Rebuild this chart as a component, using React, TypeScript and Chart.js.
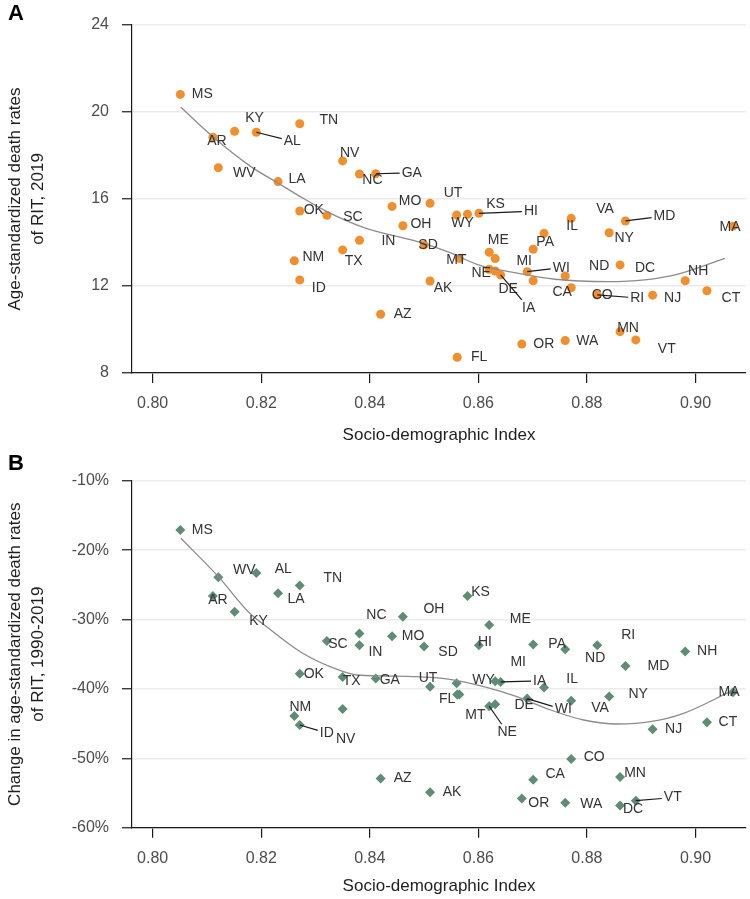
import React, { useEffect, useRef } from 'react';
import { Chart, registerables } from 'chart.js';
Chart.register(...registerables);

const FONT = '"Liberation Sans", Arial, Helvetica, sans-serif';

const states = ['AL','AK','AZ','AR','CA','CO','CT','DE','DC','FL','GA','HI','ID','IL','IN','IA','KS','KY','LA','ME','MD','MA','MI','MN','MS','MO','MT','NE','NV','NH','NJ','NM','NY','NC','ND','OH','OK','OR','PA','RI','SC','SD','TN','TX','UT','VT','VA','WA','WV','WI','WY'];
const sdi = [0.8191,0.8511,0.8420,0.8111,0.8701,0.8771,0.9021,0.8631,0.8861,0.8561,0.8411,0.8601,0.8271,0.8771,0.8381,0.8641,0.8580,0.8151,0.8231,0.8620,0.8871,0.9069,0.8631,0.8861,0.8051,0.8441,0.8565,0.8620,0.8350,0.8981,0.8921,0.8261,0.8841,0.8381,0.8760,0.8461,0.8271,0.8680,0.8701,0.8819,0.8321,0.8500,0.8271,0.8350,0.8511,0.8890,0.8721,0.8760,0.8121,0.8690,0.8560];
const deathRate2019 = [19.07,12.23,10.70,18.84,12.24,11.92,11.78,12.69,12.97,8.72,17.16,15.34,12.28,15.11,14.10,12.51,15.30,19.11,16.80,13.55,14.99,14.75,13.26,9.90,20.81,15.66,13.27,12.77,17.75,12.24,11.58,13.16,14.45,17.15,12.46,14.77,15.45,9.33,13.69,11.59,15.25,13.89,19.46,13.66,15.80,9.52,14.42,9.49,17.44,12.66,15.26];
const pctChange = [-23.3,-54.9,-52.9,-26.6,-53.1,-50.1,-44.8,-42.2,-56.8,-40.8,-38.5,-33.7,-45.2,-41.7,-33.7,-39.0,-26.6,-28.9,-26.2,-30.8,-36.7,-40.5,-38.9,-52.7,-17.1,-32.4,-40.8,-42.5,-42.9,-34.6,-45.8,-43.9,-41.1,-32.0,-34.3,-29.6,-37.8,-55.8,-33.6,-33.7,-33.1,-33.9,-25.1,-38.3,-39.7,-56.1,-39.8,-56.4,-23.9,-41.4,-39.2];

const fitSdiA = [0.8052,0.8111,0.8181,0.8230,0.8272,0.8321,0.8388,0.8499,0.8548,0.8600,0.8674,0.8741,0.8839,0.8906,0.8968,0.9054];
const fitRateA = [20.22,18.86,17.49,16.75,16.11,15.42,14.70,13.96,13.53,12.97,12.58,12.31,12.20,12.28,12.55,13.27];
const fitSdiB = [0.8052,0.8121,0.8179,0.8210,0.8272,0.8327,0.8376,0.8425,0.8487,0.8548,0.8610,0.8671,0.8733,0.8794,0.8856,0.8917,0.8978,0.9064];
const fitChangeB = [-18.3,-23.83,-29.11,-31.04,-34.64,-36.8,-38.0,-38.14,-38.24,-38.62,-39.68,-41.12,-43.04,-44.48,-45.06,-44.73,-43.52,-40.4];

const xTickValues = [0.8,0.82,0.84,0.86,0.88,0.9];
const yTickValuesA = [8,12,16,20,24];
const yTickValuesB = [-60,-50,-40,-30,-20,-10];

// label placement: [dx px, dy px, leader line]
const labelOffsetsA: Record<string, number[]> = {
  MS:[22,0],KY:[20,-13],AR:[4,4],AL:[36,9,1],TN:[29,-4],WV:[26,5],LA:[19,-2],NV:[7,-8],NC:[13,6],GA:[36,-1,1],
  OK:[14,-1],SC:[26,2],MO:[18,-5],UT:[23,-10],OH:[18,-2],IN:[29,1],SD:[4,0],TX:[11,11],NM:[19,-4],ID:[19,8],
  AK:[13,7],AZ:[22,0],WY:[6,8],KS:[28,-10],HI:[52,-2,1],IL:[1,8],ME:[9,-12],PA:[12,-7],MT:[-3,2],MI:[29,3],
  NE:[-8,4],DE:[13,18],IA:[28,33,1],WI:[34,-4,1],CA:[29,11],CO:[31,7],RI:[40,3,1],VA:[61,-24],ND:[34,-10],NY:[15,5],
  MD:[39,-5,1],DC:[25,3],MA:[-3,1],NH:[13,-10],CT:[24,7],NJ:[20,3],MN:[8,-4],VT:[31,9],WA:[22,1],OR:[22,0],FL:[22,0],
};
const labelOffsetsB: Record<string, number[]> = {
  MS:[22,0],WV:[26,-7],AL:[27,-4],TN:[33,-7],LA:[18,6],AR:[5,4],KY:[24,9],NC:[17,-18],OH:[31,-8],MO:[21,0],
  SC:[11,3],IN:[16,7],SD:[24,6],OK:[14,1],TX:[9,4],GA:[14,2],UT:[-2,-9],NM:[6,-9],ID:[27,8,1],NV:[3,30],
  AZ:[22,0],AK:[22,0],KS:[13,-4],ME:[31,-6],HI:[6,-3],PA:[24,0],RI:[31,-10],ND:[30,9],MI:[23,-19],MD:[33,0],
  NH:[22,0],WY:[27,-3],IA:[39,-1,1],IL:[1,-22],FL:[-10,5],DE:[29,1],WI:[36,11,1],VA:[56,21],NY:[29,-2],MA:[-4,0],
  MT:[16,21],NE:[18,26,1],CT:[21,0],NJ:[21,0],CO:[23,-2],CA:[22,-6],MN:[15,-4],OR:[17,5],WA:[26,1],DC:[13,4],VT:[37,-3,1],
};

type PanelSpec = {
  values: number[]; fitX: number[]; fitY: number[]; yTicks: number[]; yMin: number; yMax: number;
  offsets: Record<string, number[]>; color: string; pointStyle: string; radius: number;
  letter: string; yTitle: string[]; padTop: number; xAxisH: number; fmt: (v: number) => string; xTitleGap: number;
};

function makeLabelPlugin(p: PanelSpec) {
  return {
    id: 'stateLabels',
    afterDatasetsDraw(chart: any) {
      const { ctx } = chart;
      const xs = chart.scales.x, ys = chart.scales.y;
      ctx.save();
      ctx.font = `14px ${FONT}`;
      ctx.textAlign = 'center';
      ctx.textBaseline = 'middle';
      states.forEach((s, i) => {
        const px = xs.getPixelForValue(sdi[i]);
        const py = ys.getPixelForValue(p.values[i]);
        const o = p.offsets[s] || [18, 0];
        const lx = px + o[0], ly = py + o[1];
        if (o[2]) {
          const hw = ctx.measureText(s).width / 2 + 2, hh = 8;
          const vx = px - lx, vy = py - ly;
          const t = Math.min(vx !== 0 ? hw / Math.abs(vx) : 1e9, vy !== 0 ? hh / Math.abs(vy) : 1e9);
          ctx.beginPath();
          ctx.strokeStyle = '#1a1a1a';
          ctx.lineWidth = 1.2;
          ctx.moveTo(px, py);
          ctx.lineTo(lx + vx * t, ly + vy * t);
          ctx.stroke();
        }
        ctx.fillStyle = '#333333';
        ctx.fillText(s, lx, ly);
      });
      ctx.restore();
    },
  };
}

function makeDecorPlugin(p: PanelSpec) {
  return {
    id: 'decor',
    afterDraw(chart: any) {
      const { ctx, chartArea: a } = chart;
      ctx.save();
      ctx.fillStyle = '#000';
      ctx.font = `bold 22px ${FONT}`;
      ctx.textAlign = 'left';
      ctx.textBaseline = 'middle';
      ctx.fillText(p.letter, 8, 14);
      ctx.font = `17px ${FONT}`;
      ctx.fillStyle = '#1f1f1f';
      ctx.textAlign = 'center';
      ctx.fillText('Socio-demographic Index', (a.left + a.right) / 2, a.bottom + p.xTitleGap);
      const cy = (a.top + a.bottom) / 2;
      const xsPos = [15, 38];
      p.yTitle.forEach((line, i) => {
        ctx.save();
        ctx.translate(xsPos[i], cy);
        ctx.rotate(-Math.PI / 2);
        ctx.fillText(line, 0, 0);
        ctx.restore();
      });
      ctx.restore();
    },
  };
}

function buildChart(canvas: HTMLCanvasElement, p: PanelSpec) {
  const points = states.map((_, i) => ({ x: sdi[i], y: p.values[i] }));
  const fit = p.fitX.map((x, i) => ({ x, y: p.fitY[i] }));
  const tickFont = { family: FONT, size: 16 };
  return new Chart(canvas, {
    type: 'scatter',
    data: {
      datasets: [
        { type: 'scatter', data: points, pointStyle: p.pointStyle as any, pointRadius: p.radius, pointHoverRadius: p.radius, backgroundColor: p.color, borderColor: p.color, borderWidth: 0, order: 2 } as any,
        { type: 'line', data: fit, borderColor: '#8C8C8C', borderWidth: 1.3, pointRadius: 0, cubicInterpolationMode: 'monotone', fill: false, order: 1 } as any,
      ],
    },
    options: {
      responsive: false,
      animation: false,
      events: [],
      layout: { padding: { top: p.padTop, right: 4, left: 0, bottom: 0 }, autoPadding: false } as any,
      plugins: { legend: { display: false }, tooltip: { enabled: false } },
      scales: {
        x: {
          type: 'linear', min: 0.7962, max: 0.9093,
          afterBuildTicks: (s: any) => { s.ticks = xTickValues.map((v) => ({ value: v })); },
          afterFit: (s: any) => { s.height = p.xAxisH; },
          ticks: { callback: (v: any) => Number(v).toFixed(2), color: '#4D4D4D', font: tickFont, padding: 11, maxRotation: 0, autoSkip: false },
          grid: { drawOnChartArea: false, drawTicks: true, tickLength: 10, color: '#1a1a1a', lineWidth: 1.2 },
          border: { display: true, color: '#1a1a1a', width: 1.2 },
        },
        y: {
          type: 'linear', min: p.yMin, max: p.yMax,
          afterBuildTicks: (s: any) => { s.ticks = p.yTicks.map((v) => ({ value: v })); },
          afterFit: (s: any) => { s.width = 132; },
          ticks: { callback: (v: any) => p.fmt(Number(v)), color: '#4D4D4D', font: tickFont, padding: 13, autoSkip: false },
          grid: { color: '#EBEBEB', lineWidth: 1.5, drawTicks: true, tickLength: 10, tickColor: '#1a1a1a', tickWidth: 1.2 } as any,
          border: { display: true, color: '#1a1a1a', width: 1.2 },
        },
      },
    } as any,
    plugins: [makeLabelPlugin(p), makeDecorPlugin(p)],
  });
}

export default function App() {
  const refA = useRef<HTMLCanvasElement>(null);
  const refB = useRef<HTMLCanvasElement>(null);
  useEffect(() => {
    const specA: PanelSpec = {
      values: deathRate2019, fitX: fitSdiA, fitY: fitRateA, yTicks: yTickValuesA, yMin: 8, yMax: 24,
      offsets: labelOffsetsA, color: '#F18F2D', pointStyle: 'circle', radius: 4.5, letter: 'A',
      yTitle: ['Age-standardized death rates', 'of RIT, 2019'], padTop: 25, xAxisH: 77,
      fmt: (v) => String(v), xTitleGap: 62,
    };
    const specB: PanelSpec = {
      values: pctChange, fitX: fitSdiB, fitY: fitChangeB, yTicks: yTickValuesB, yMin: -60, yMax: -10,
      offsets: labelOffsetsB, color: '#5E8C75', pointStyle: 'rectRot', radius: 5, letter: 'B',
      yTitle: ['Change in age-standardized death rates', 'of RIT, 1990-2019'], padTop: 30.7, xAxisH: 71.3,
      fmt: (v) => `${v}%`, xTitleGap: 59,
    };
    const a = buildChart(refA.current!, specA);
    const b = buildChart(refB.current!, specB);
    return () => { a.destroy(); b.destroy(); };
  }, []);
  return (
    <div style={{ position: 'absolute', left: 0, top: 0, width: 750, height: 899, background: '#fff' }}>
      <canvas ref={refA} width={750} height={450} style={{ position: 'absolute', left: 0, top: 0, width: 750, height: 450 }} />
      <canvas ref={refB} width={750} height={449} style={{ position: 'absolute', left: 0, top: 450, width: 750, height: 449 }} />
    </div>
  );
}
